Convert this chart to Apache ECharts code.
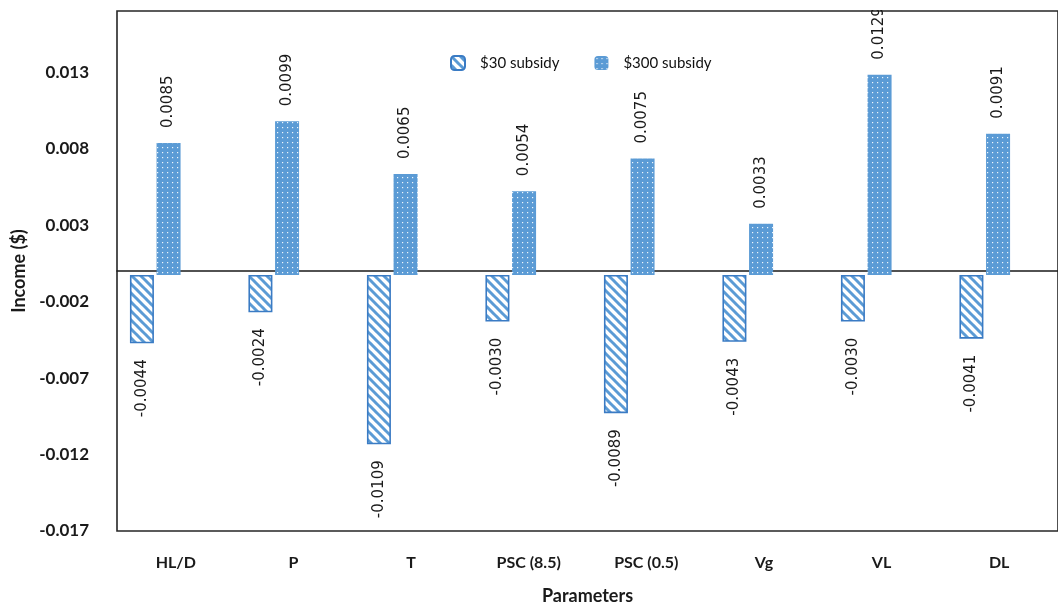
<!DOCTYPE html>
<html>
<head>
<meta charset="utf-8">
<script src="https://cdn.jsdelivr.net/npm/echarts@6/dist/echarts.min.js"></script>
<style>
  html, body { margin: 0; padding: 0; background: #fff; }
  #chart { width: 1058px; height: 610px; }
</style>
</head>
<body>
<div id="chart"></div>
<script>
// Income change per parameter under the two subsidy levels
const categories = ['HL/D', 'P', 'T', 'PSC (8.5)', 'PSC (0.5)', 'Vg', 'VL', 'DL'];
const subsidy30 = [-0.0044, -0.0024, -0.0109, -0.0030, -0.0089, -0.0043, -0.0030, -0.0041];
const subsidy300 = [0.0085, 0.0099, 0.0065, 0.0054, 0.0075, 0.0033, 0.0129, 0.0091];
const seriesNames = ['$30 subsidy', '$300 subsidy'];
const yMin = -0.017, yMax = 0.017, yStep = 0.005;

const BLUE = '#5b9bd5';
const EDGE = '#3a7bc4';
const FONT = 'Lato, "Open Sans", sans-serif';

// diagonal hatch tile ("\" direction) for the $30 bars
function hatchTile() {
  const s = 9;
  const c = document.createElement('canvas');
  c.width = s; c.height = s;
  const g = c.getContext('2d');
  g.fillStyle = '#fff';
  g.fillRect(0, 0, s, s);
  g.strokeStyle = BLUE;
  g.lineWidth = 3;
  for (const o of [-s, 0, s]) {
    g.beginPath();
    g.moveTo(o - 1, -1);
    g.lineTo(o + s + 1, s + 1);
    g.stroke();
  }
  return c;
}

// fine dotted tile for the $300 bars
function dotTile() {
  const s = 5;
  const c = document.createElement('canvas');
  c.width = s; c.height = s;
  const g = c.getContext('2d');
  g.fillStyle = BLUE;
  g.fillRect(0, 0, s, s);
  g.fillStyle = 'rgba(255,255,255,0.9)';
  g.fillRect(2, 2, 1.2, 1.2);
  return c;
}

const fmt = v => v.toFixed(4);

const chart = echarts.init(document.getElementById('chart'), null, { renderer: 'canvas' });

chart.setOption({
  animation: false,
  backgroundColor: '#fff',
  legend: {
    left: 445,
    top: 50,
    itemWidth: 14,
    itemHeight: 14,
    itemGap: 35,
    data: seriesNames,
    textStyle: { fontFamily: FONT, fontSize: 15, color: '#111', padding: [0, 0, 0, 10] }
  },
  grid: [
    // frame, axes and labels
    { left: 117, right: -4, top: 11, bottom: 71, show: true, borderColor: '#262626', borderWidth: 1.6, backgroundColor: 'transparent' },
    // bars
    { left: 96, right: 14, top: 11, bottom: 71 }
  ],
  xAxis: [
    {
      gridIndex: 0,
      type: 'category',
      data: categories,
      position: 'bottom',
      axisLine: { show: false, onZero: false },
      axisTick: { show: false },
      axisLabel: { margin: 24, fontFamily: FONT, fontWeight: 'bold', fontSize: 16, color: '#1a1a1a' },
      name: 'Parameters',
      nameLocation: 'middle',
      nameGap: 56,
      nameTextStyle: { fontFamily: FONT, fontWeight: 'bold', fontSize: 18, color: '#1a1a1a' }
    },
    {
      // zero line
      gridIndex: 0,
      type: 'category',
      data: categories,
      position: 'bottom',
      axisLine: { show: true, onZero: true, onZeroAxisIndex: 0, lineStyle: { color: '#1a1a1a', width: 1.6 } },
      axisTick: { show: false },
      axisLabel: { show: false }
    },
    {
      gridIndex: 1,
      type: 'category',
      data: categories,
      show: false
    }
  ],
  yAxis: [
    {
      gridIndex: 0,
      type: 'value',
      min: yMin,
      max: yMax,
      interval: yStep,
      splitLine: { show: false },
      axisTick: { show: false },
      axisLine: { show: false },
      axisLabel: {
        margin: 28,
        showMaxLabel: false,
        fontFamily: FONT,
        fontWeight: 'bold',
        fontSize: 17,
        color: '#1a1a1a',
        formatter: v => v.toFixed(3)
      },
      name: 'Income ($)',
      nameLocation: 'middle',
      nameGap: 76,
      nameTextStyle: { fontFamily: FONT, fontWeight: 'bold', fontSize: 18, color: '#1a1a1a' }
    },
    {
      gridIndex: 1,
      type: 'value',
      min: yMin,
      max: yMax,
      interval: yStep,
      show: false
    }
  ],
  series: [
    {
      name: seriesNames[0],
      type: 'bar',
      xAxisIndex: 2,
      yAxisIndex: 1,
      data: subsidy30,
      barWidth: 24,
      barGap: '11%',
      itemStyle: { color: { image: hatchTile(), repeat: 'repeat' }, borderColor: EDGE, borderWidth: 1.6 },
      label: {
        show: true,
        position: 'bottom',
        distance: 16,
        rotate: 90,
        align: 'right',
        verticalAlign: 'middle',
        fontFamily: '"DejaVu Sans", sans-serif',
        fontSize: 15,
        color: '#1a1a1a',
        formatter: p => fmt(p.value)
      }
    },
    {
      name: seriesNames[1],
      type: 'bar',
      xAxisIndex: 2,
      yAxisIndex: 1,
      data: subsidy300,
      barWidth: 24,
      barGap: '11%',
      itemStyle: { color: { image: dotTile(), repeat: 'repeat' } },
      label: {
        show: true,
        position: 'top',
        distance: 15,
        rotate: 90,
        align: 'left',
        verticalAlign: 'middle',
        fontFamily: '"DejaVu Sans", sans-serif',
        fontSize: 15,
        color: '#1a1a1a',
        formatter: p => fmt(p.value)
      }
    }
  ],
  graphic: [
    // keeps labels from spilling above the plot frame
    { type: 'rect', left: 117, top: 0, shape: { width: 941, height: 10 }, style: { fill: '#fff' }, z: 100 }
  ]
});
</script>
</body>
</html>
